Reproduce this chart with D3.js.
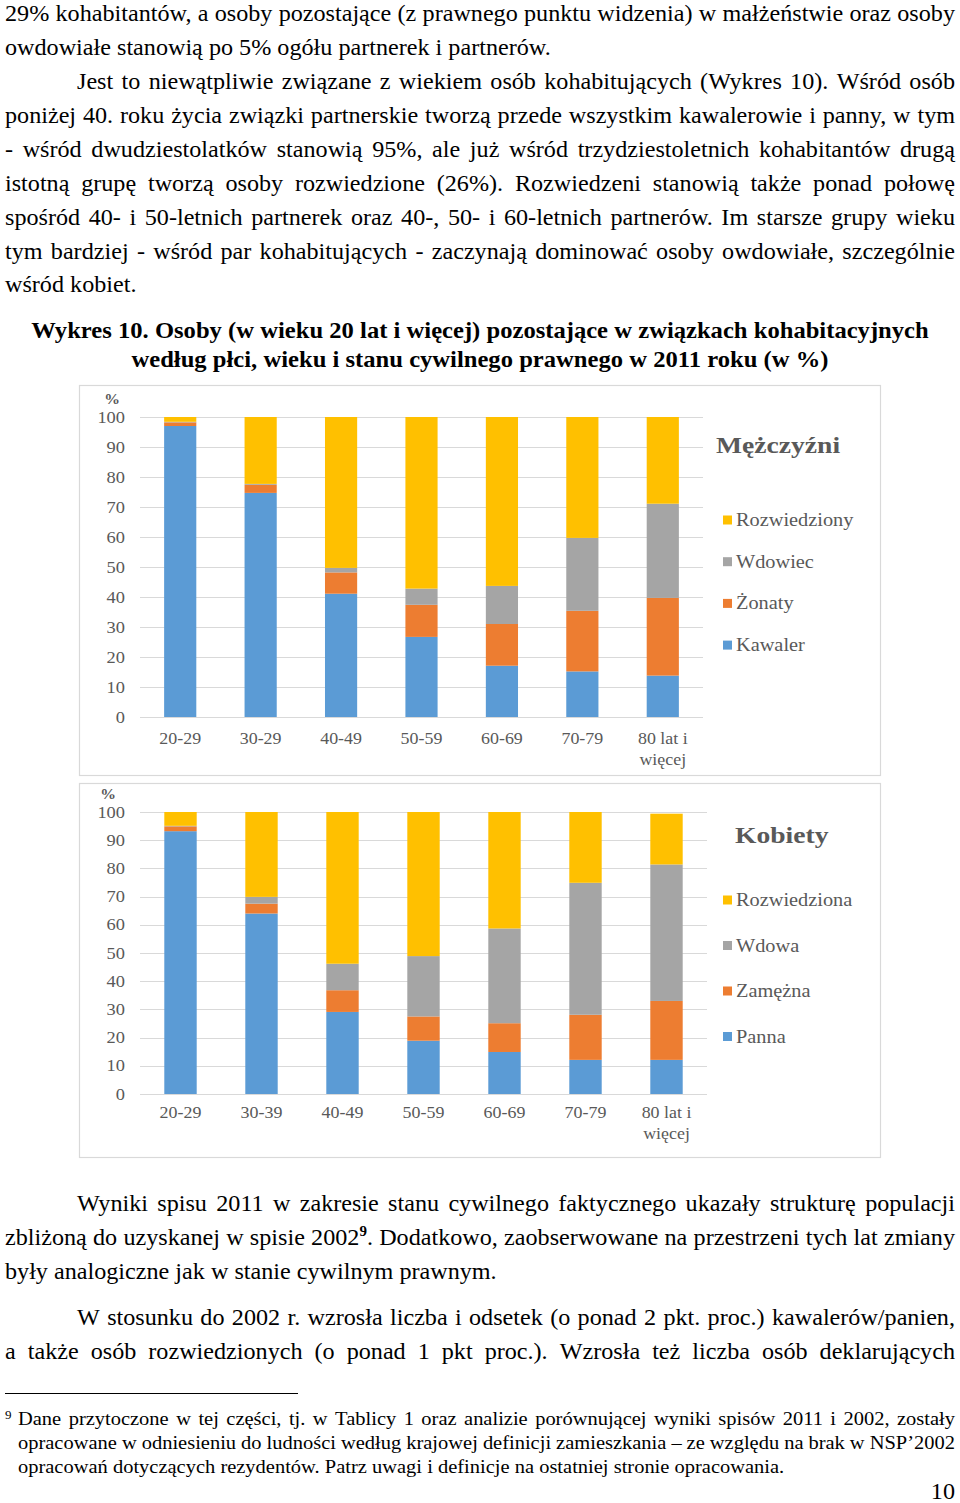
<!DOCTYPE html>
<html><head><meta charset="utf-8">
<script src="https://cdn.jsdelivr.net/npm/d3@7"></script>
<style>body{margin:0;background:#fff}svg{display:block}</style>
</head><body>
<svg id="page" width="960" height="1503"></svg>
<script>
// ---------- DATA ----------
const ageGroupsMen   = [["20-29"],["30-29"],["40-49"],["50-59"],["60-69"],["70-79"],["80 lat i","więcej"]];
const ageGroupsWomen = [["20-29"],["30-39"],["40-49"],["50-59"],["60-69"],["70-79"],["80 lat i","więcej"]];
const yTickValues = [0,10,20,30,40,50,60,70,80,90,100];

const menSeriesNames   = ["Kawaler","Żonaty","Wdowiec","Rozwiedziony"];
const menKawaler       = [97.0, 74.7, 41.1, 26.7, 17.1, 15.2, 13.8];
const menZonaty        = [1.2, 2.7, 7.1, 10.7, 13.9, 20.2, 25.9];
const menWdowiec       = [0.2, 0.3, 1.5, 5.4, 12.7, 24.3, 31.4];
const menRozwiedziony  = [1.6, 22.3, 50.3, 57.2, 56.3, 40.3, 28.9];

const womenSeriesNames     = ["Panna","Zamężna","Wdowa","Rozwiedziona"];
const womenPanna           = [93.2, 64.0, 29.1, 18.9, 14.9, 12.1, 12.1];
const womenZamezna         = [1.7, 3.5, 7.7, 8.6, 10.2, 16.0, 20.9];
const womenWdowa           = [0.2, 2.4, 9.4, 21.4, 33.6, 46.8, 48.4];
const womenRozwiedziona    = [4.9, 30.1, 53.8, 51.1, 41.3, 25.1, 18.0];

const seriesColors = ["#5b9bd5","#ed7d31","#a5a5a5","#ffc000"];

// ---------- TEXT ----------
const topLines = [
  {t:"29% kohabitantów, a osoby pozostające (z prawnego punktu widzenia) w małżeństwie oraz osoby", x0:5, x1:955, y:21, j:true},
  {t:"owdowiałe stanowią po 5% ogółu partnerek i partnerów.", x0:5, y:55},
  {t:"Jest to niewątpliwie związane z wiekiem osób kohabitujących (Wykres 10). Wśród osób", x0:77, x1:955, y:89, j:true},
  {t:"poniżej 40. roku życia związki partnerskie tworzą przede wszystkim kawalerowie i panny, w tym", x0:5, x1:955, y:123, j:true},
  {t:"- wśród dwudziestolatków stanowią 95%, ale już wśród trzydziestoletnich kohabitantów drugą", x0:5, x1:955, y:157, j:true},
  {t:"istotną grupę tworzą osoby rozwiedzione (26%). Rozwiedzeni stanowią także ponad połowę", x0:5, x1:955, y:191, j:true},
  {t:"spośród 40- i 50-letnich partnerek oraz 40-, 50- i 60-letnich partnerów. Im starsze grupy wieku", x0:5, x1:955, y:225, j:true},
  {t:"tym bardziej - wśród par kohabitujących - zaczynają dominować osoby owdowiałe, szczególnie", x0:5, x1:955, y:259, j:true},
  {t:"wśród kobiet.", x0:5, y:292}
];
const titleLines = [
  {t:"Wykres 10. Osoby (w wieku 20 lat i więcej) pozostające w związkach kohabitacyjnych", c:480, y:338},
  {t:"według płci, wieku i stanu cywilnego prawnego w 2011 roku (w %)", c:480, y:367}
];
const bottomLines = [
  {t:"Wyniki spisu 2011 w zakresie stanu cywilnego faktycznego ukazały strukturę populacji", x0:77, x1:955, y:1211, j:true},
  {t:"zbliżoną do uzyskanej w spisie 2002{9}. Dodatkowo, zaobserwowane na przestrzeni tych lat zmiany", x0:5, x1:955, y:1245, j:true},
  {t:"były analogiczne jak w stanie cywilnym prawnym.", x0:5, y:1279},
  {t:"W stosunku do 2002 r. wzrosła liczba i odsetek (o ponad 2 pkt. proc.) kawalerów/panien,", x0:77, x1:955, y:1325, j:true},
  {t:"a także osób rozwiedzionych (o ponad 1 pkt proc.). Wzrosła też liczba osób deklarujących", x0:5, x1:955, y:1359, j:true}
];
const footLines = [
  {t:"Dane przytoczone w tej części, tj. w Tablicy 1 oraz analizie porównującej wyniki spisów 2011 i 2002, zostały", x0:18, x1:955, y:1425, j:true},
  {t:"opracowane w odniesieniu do ludności według krajowej definicji zamieszkania – ze względu na brak w NSP’2002", x0:18, x1:955, y:1449, j:true},
  {t:"opracowań dotyczących rezydentów. Patrz uwagi i definicje na ostatniej stronie opracowania.", x0:18, y:1473}
];

// ---------- RENDER ----------
const svg = d3.select("#page");
const SERIF = "'Liberation Serif','Times New Roman',serif";

function makeWord(parent, word, size, weight){
  const t = parent.append("text").attr("font-family", SERIF).attr("font-size", size)
    .attr("font-weight", weight).attr("fill", "#000");
  const m = word.match(/^(.*)\{(\w+)\}(.*)$/);
  if (m){
    t.append("tspan").text(m[1]);
    t.append("tspan").attr("font-size", size*0.62).attr("font-weight","bold").attr("dy", -size*0.38).text(m[2]);
    t.append("tspan").attr("dy", size*0.38).text(m[3]);
  } else t.text(word);
  return t;
}
function drawLine(L, size, weight, sx){
  const g = svg.append("g");
  const words = L.t.split(" ");
  const els = words.map(w => makeWord(g, w, size, weight));
  const widths = els.map(e => e.node().getComputedTextLength()*sx);
  const sum = d3.sum(widths);
  const space = size*0.25*sx;
  let gap = space, x;
  if (L.j) gap = (L.x1 - L.x0 - sum)/(words.length-1);
  const total = sum + gap*(words.length-1);
  x = L.c !== undefined ? L.c - total/2 : L.x0;
  els.forEach((e,i) => {
    e.attr("transform", `translate(${x},${L.y}) scale(${sx},1)`);
    x += widths[i] + gap;
  });
}
topLines.forEach(L => drawLine(L, 23, "normal", 1.05));
titleLines.forEach(L => drawLine(L, 23, "bold", 1.07));
bottomLines.forEach(L => drawLine(L, 23, "normal", 1.05));
footLines.forEach(L => drawLine(L, 19.5, "normal", 1.05));
// footnote marker, rule, page number
svg.append("text").attr("font-family",SERIF).attr("font-size",13).attr("x",5).attr("y",1419).text("9");
svg.append("line").attr("x1",5).attr("x2",298).attr("y1",1393.5).attr("y2",1393.5).attr("stroke","#000").attr("stroke-width",1);
svg.append("text").attr("font-family",SERIF).attr("font-size",23).attr("text-anchor","end")
  .attr("transform","translate(955,1499) scale(1.05,1)").text("10");

// ---------- CHARTS ----------
const GRAY_TXT = "#595959";
function chartText(g, str, x, y, size, anchor, weight, sx){
  return g.append("text").attr("font-family", SERIF).attr("font-size", size)
    .attr("font-weight", weight||"normal").attr("fill", GRAY_TXT).attr("text-anchor", anchor)
    .attr("transform", `translate(${x},${y}) scale(${sx||1.2},1)`).text(str);
}
function drawChart(cfg){
  const g = svg.append("g");
  g.append("rect").attr("x",cfg.box[0]+0.5).attr("y",cfg.box[1]+0.5)
    .attr("width",cfg.box[2]).attr("height",cfg.box[3])
    .attr("fill","#fff").attr("stroke","#d9d9d9").attr("stroke-width",1.2);
  const x = d3.scaleBand().domain(d3.range(cfg.cats.length)).range(cfg.xr).paddingInner(0.6).paddingOuter(0.3);
  const y = d3.scaleLinear().domain([0,100]).range(cfg.yr);
  // grid
  g.append("g").selectAll("line").data(yTickValues).join("line")
    .attr("x1",cfg.xr[0]).attr("x2",cfg.xr[1])
    .attr("y1",d=>Math.round(y(d))+0.5).attr("y2",d=>Math.round(y(d))+0.5)
    .attr("stroke","#d9d9d9").attr("stroke-width",1);
  // y tick labels
  yTickValues.forEach(v => chartText(g, v, 125, y(v)+5.5, 16, "end", "normal", 1.15));
  chartText(g, "%", cfg.pct[0], cfg.pct[1], 15, "middle", "bold", 1.05);
  // stacked bars
  const rows = cfg.cats.map((c,i) => {
    const r = {i};
    cfg.names.forEach((n,k) => r[n] = cfg.series[k][i]);
    return r;
  });
  const stack = d3.stack().keys(cfg.names)(rows);
  stack.forEach((layer,k) => {
    g.append("g").attr("fill", seriesColors[k]).selectAll("rect").data(layer).join("rect")
      .attr("x", d => x(d.data.i)).attr("width", x.bandwidth())
      .attr("y", d => y(d[1])).attr("height", d => y(d[0]) - y(d[1]));
  });
  // x labels
  cfg.cats.forEach((lines,i) => {
    lines.forEach((s,li) => chartText(g, s, x(i)+x.bandwidth()/2, cfg.xlabY + li*21, 16, "middle", "normal", 1.12));
  });
  // legend
  chartText(g, cfg.title, cfg.titlePos[0], cfg.titlePos[1], 24, "start", "bold", 1.15);
  const order = [3,2,1,0];
  order.forEach((k,j) => {
    const cy = cfg.legY0 + j*cfg.legStep;
    g.append("rect").attr("x",723).attr("y",cy-4.5).attr("width",9).attr("height",9).attr("fill",seriesColors[k]);
    chartText(g, cfg.names[k], 736, cy+6, 18, "start", "normal", 1.13);
  });
}
drawChart({
  box:[79,385,801,390], xr:[140,703], yr:[717,417], pct:[112,404], xlabY:744,
  cats: ageGroupsMen, names: menSeriesNames,
  series:[menKawaler, menZonaty, menWdowiec, menRozwiedziony],
  title:"Mężczyźni", titlePos:[716,453], legY0:520, legStep:41.7
});
drawChart({
  box:[79,783,801,374], xr:[140,707], yr:[1094,812], pct:[108,799], xlabY:1118,
  cats: ageGroupsWomen, names: womenSeriesNames,
  series:[womenPanna, womenZamezna, womenWdowa, womenRozwiedziona],
  title:"Kobiety", titlePos:[735,843], legY0:900, legStep:45.5
});
</script>
</body></html>
